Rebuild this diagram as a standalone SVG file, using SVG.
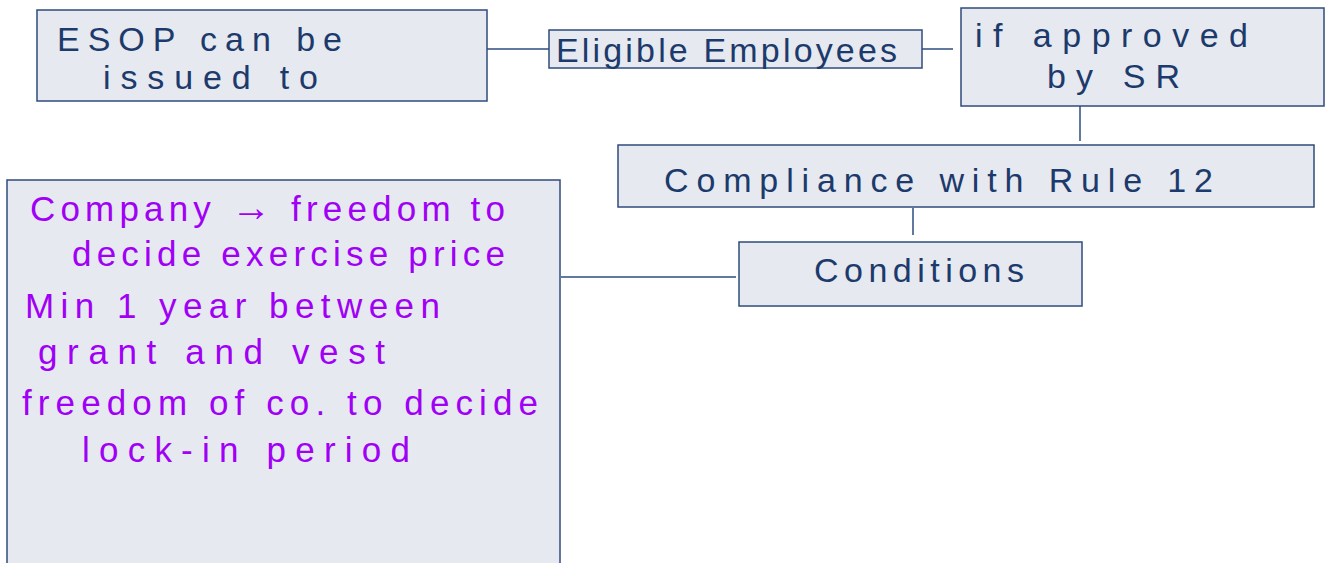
<svg xmlns="http://www.w3.org/2000/svg" width="1326" height="563" viewBox="0 0 1326 563">
<style>
.box{fill:#e6e9ef;stroke:#2f4b7c;stroke-width:1.5}
.conn{stroke:#2f4b7c;stroke-width:1.5;fill:none}
.t{font-family:"Liberation Sans",Arial,sans-serif;font-size:34px;fill:#1c3a6b}
.p{font-family:"Liberation Sans",Arial,sans-serif;font-size:35px;fill:#a000f5}
.arr{font-size:40px}
</style>
<rect width="1326" height="563" fill="#ffffff"/>
<g id="connectors">
<line class="conn" x1="485" y1="49" x2="549" y2="49"/>
<line class="conn" x1="922" y1="49" x2="953" y2="49"/>
<line class="conn" x1="1080" y1="106" x2="1080" y2="141"/>
<line class="conn" x1="913" y1="208" x2="913" y2="235"/>
<line class="conn" x1="561" y1="277" x2="736" y2="277"/>
</g>
<g id="esop">
<rect class="box" x="37" y="10" width="450" height="91"/>
<text class="t" x="57" y="51" textLength="285" lengthAdjust="spacing">ESOP can be</text>
<text class="t" x="103" y="89" textLength="215" lengthAdjust="spacing">issued to</text>
</g>
<g id="eligible">
<rect class="box" x="549" y="30" width="373" height="38"/>
<text class="t" x="556" y="62" textLength="341" lengthAdjust="spacing">Eligible Employees</text>
</g>
<g id="approved">
<rect class="box" x="961" y="8" width="363" height="98"/>
<text class="t" x="975" y="47" textLength="273" lengthAdjust="spacing">if approved</text>
<text class="t" x="1047" y="88" textLength="133" lengthAdjust="spacing">by SR</text>
</g>
<g id="compliance">
<rect class="box" x="618" y="145" width="696" height="62"/>
<text class="t" x="664" y="192" textLength="549" lengthAdjust="spacing">Compliance with Rule 12</text>
</g>
<g id="conditions">
<rect class="box" x="739" y="242" width="343" height="64"/>
<text class="t" x="814" y="282" textLength="210" lengthAdjust="spacing">Conditions</text>
</g>
<g id="details">
<rect class="box" x="7" y="180" width="553" height="390"/>
<text class="p" x="30" y="221" textLength="475" lengthAdjust="spacing">Company <tspan class="arr">→</tspan> freedom to</text>
<text class="p" x="72" y="266" textLength="433" lengthAdjust="spacing">decide exercise price</text>
<text class="p" x="25" y="318" textLength="415" lengthAdjust="spacing">Min 1 year between</text>
<text class="p" x="38" y="364" textLength="347" lengthAdjust="spacing">grant and vest</text>
<text class="p" x="22" y="415" textLength="516" lengthAdjust="spacing">freedom of co. to decide</text>
<text class="p" x="82" y="462" textLength="328" lengthAdjust="spacing">lock-in period</text>
</g>
</svg>
